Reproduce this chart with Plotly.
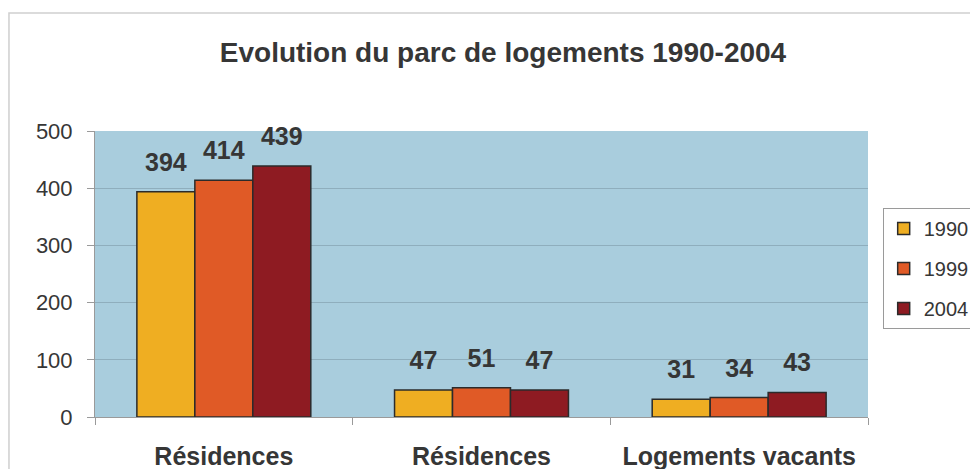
import plotly.graph_objects as go

categories = ["Résidences", "Résidences", "Logements vacants"]
years = ["1990", "1999", "2004"]
values_1990 = [394, 47, 31]
values_1999 = [414, 51, 34]
values_2004 = [439, 47, 43]
y_ticks = [0, 100, 200, 300, 400, 500]

colors = ["#EFAE22", "#E05A26", "#8E1B22"]
font = "Liberation Sans, Arial, sans-serif"
text_color = "#363636"
gap = 0.325

positions = list(range(len(categories)))
series = [values_1990, values_1999, values_2004]

fig = go.Figure()
for name, vals, col in zip(years, series, colors):
    fig.add_trace(
        go.Bar(
            x=positions,
            y=vals,
            name=name,
            legendgroup=name,
            marker=dict(color=col, line=dict(color="#2b2b2b", width=1.5)),
            hoverinfo="skip",
        )
    )

# value labels, grouped like the bars
for name, vals in zip(years, series):
    fig.add_trace(
        go.Scatter(
            x=positions,
            y=vals,
            mode="markers+text",
            text=["<b>%d</b>" % v for v in vals],
            textposition="top center",
            textfont=dict(family=font, size=25, color=text_color),
            marker=dict(size=22, opacity=0),
            showlegend=False,
            legendgroup=name,
            cliponaxis=False,
            hoverinfo="skip",
        )
    )

# the page body adds an 8px offset, so the figure is 8px smaller than the window
fig.update_layout(
    width=970,
    height=461,
    margin=dict(l=87, r=110, t=123, b=52, autoexpand=False),
    paper_bgcolor="white",
    plot_bgcolor="#A9CDDD",
    barmode="group",
    bargap=gap,
    bargroupgap=0,
    scattermode="group",
    scattergap=gap,
    font=dict(family=font, size=22, color=text_color),
    title=dict(
        text="<b>Evolution du parc de logements 1990-2004</b>",
        x=0.5103,
        xref="container",
        xanchor="center",
        y=0.9046,
        yanchor="middle",
        font=dict(family=font, size=28, color=text_color),
    ),
    legend=dict(
        x=1.019,
        xanchor="left",
        y=0.7308,
        yanchor="top",
        bordercolor="#9a9a9a",
        borderwidth=1,
        font=dict(family=font, size=20, color=text_color),
        tracegroupgap=11,
        itemwidth=30,
    ),
    showlegend=True,
)

fig.update_xaxes(
    range=[-0.5, len(categories) - 0.5],
    tickvals=positions,
    ticktext=["<b>%s</b>" % c for c in categories],
    ticks="",
    ticklabelstandoff=17,
    tickfont=dict(family=font, size=25, color=text_color),
    showline=True,
    linecolor="#9a9a9a",
    linewidth=1,
    showgrid=False,
    zeroline=False,
    automargin=False,
    minor=dict(
        tickvals=[-0.5, 0.5, 1.5, 2.5],
        ticks="outside",
        ticklen=7,
        tickcolor="#9a9a9a",
        showgrid=False,
    ),
)

fig.update_yaxes(
    range=[0, 500],
    tickvals=y_ticks,
    ticks="outside",
    ticklen=7,
    tickcolor="#9a9a9a",
    ticklabelstandoff=10,
    tickfont=dict(family=font, size=22, color=text_color),
    showline=True,
    linecolor="#9a9a9a",
    linewidth=1,
    showgrid=True,
    gridcolor="#8FAEBD",
    gridwidth=1,
    zeroline=False,
    automargin=False,
)

# outer chart frame
fig.add_shape(
    type="rect",
    xref="paper",
    yref="paper",
    x0=-0.1113,
    x1=1.2,
    y0=-0.25,
    y1=1.4126,
    line=dict(color="#cfcfcf", width=1.5),
    layer="below",
)

fig.write_html("out.html")
